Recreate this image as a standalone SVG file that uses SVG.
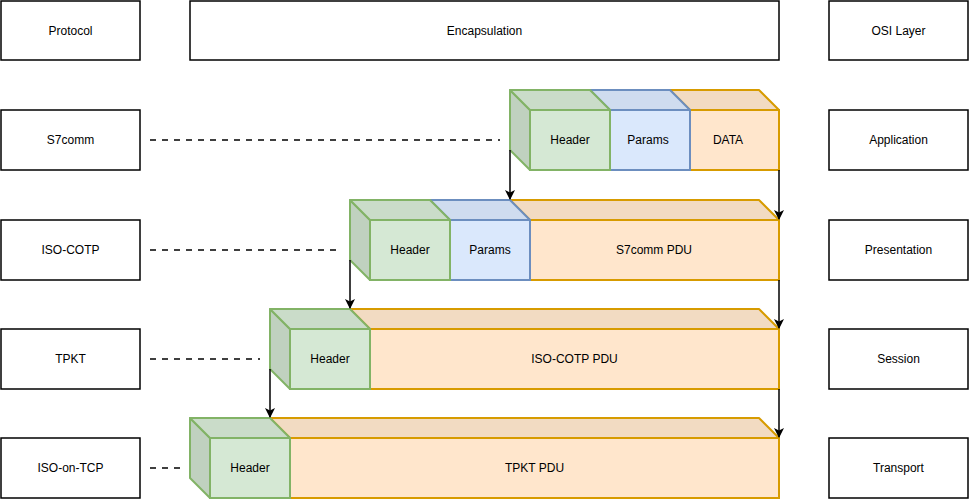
<svg xmlns="http://www.w3.org/2000/svg" width="969" height="500" viewBox="0 0 969 500">
<style>
.box{fill:#fff;stroke:#000;stroke-width:1.5}
.t{font-family:"Liberation Sans",Arial,sans-serif;font-size:12px;fill:#000;text-anchor:middle;dominant-baseline:central}
.g{fill:#d5e8d4;stroke:#82b366;stroke-width:2}
.gt{fill:#cadcc9;stroke:#82b366;stroke-width:2;stroke-linejoin:round}
.gs{fill:#c0d1bf;stroke:#82b366;stroke-width:2;stroke-linejoin:round}
.b{fill:#dae8fc;stroke:#6c8ebf;stroke-width:2}
.bt{fill:#cfdcef;stroke:#6c8ebf;stroke-width:2;stroke-linejoin:round}
.o{fill:#ffe6cc;stroke:#d79b00;stroke-width:2}
.ot{fill:#f2dbc2;stroke:#d79b00;stroke-width:2;stroke-linejoin:round}
.d{stroke:#000;stroke-width:1.5;stroke-dasharray:6 6;fill:none}
.a{stroke:#000;stroke-width:1.5;fill:none;marker-end:url(#ah)}
</style>
<defs>
<marker id="ah" viewBox="0 0 10 10" refX="9" refY="5" markerWidth="10" markerHeight="10" markerUnits="userSpaceOnUse" orient="auto">
<path d="M0,0 L10,5 L0,10 L2.5,5 Z" fill="#000"/>
</marker>
</defs>
<g id="hdr-protocol"><rect class="box" x="1" y="1" width="139" height="59"/><text class="t" x="70.5" y="30.5">Protocol</text></g>
<g id="hdr-encap"><rect class="box" x="190" y="1" width="589" height="59"/><text class="t" x="484.5" y="30.5">Encapsulation</text></g>
<g id="hdr-osi"><rect class="box" x="829" y="1" width="139" height="59"/><text class="t" x="898.5" y="30.5">OSI Layer</text></g>

<g id="p-s7comm"><rect class="box" x="1" y="110" width="139" height="60"/><text class="t" x="70.5" y="140">S7comm</text></g>
<g id="p-isocotp"><rect class="box" x="1" y="220" width="139" height="60"/><text class="t" x="70.5" y="250">ISO-COTP</text></g>
<g id="p-tpkt"><rect class="box" x="1" y="329" width="139" height="60"/><text class="t" x="70.5" y="359">TPKT</text></g>
<g id="p-isoontcp"><rect class="box" x="1" y="438" width="139" height="60"/><text class="t" x="70.5" y="468">ISO-on-TCP</text></g>

<g id="l-app"><rect class="box" x="829" y="110" width="139" height="60"/><text class="t" x="898.5" y="140">Application</text></g>
<g id="l-pres"><rect class="box" x="829" y="220" width="139" height="60"/><text class="t" x="898.5" y="250">Presentation</text></g>
<g id="l-sess"><rect class="box" x="829" y="329" width="139" height="60"/><text class="t" x="898.5" y="359">Session</text></g>
<g id="l-trans"><rect class="box" x="829" y="438" width="139" height="60"/><text class="t" x="898.5" y="468">Transport</text></g>

<!-- Row 1 -->
<g id="r1-data">
<polygon class="ot" points="670,90 759,90 779,110 690,110"/>
<rect class="o" x="690" y="110" width="89" height="60"/>
<text class="t" x="728" y="140">DATA</text></g>
<g id="r1-params">
<polygon class="bt" points="590,90 670,90 690,110 610,110"/>
<rect class="b" x="610" y="110" width="80" height="60"/>
<text class="t" x="648" y="140">Params</text></g>
<g id="r1-header">
<polygon class="gs" points="510,90 530,110 530,170 510,150"/>
<polygon class="gt" points="510,90 590,90 610,110 530,110"/>
<rect class="g" x="530" y="110" width="80" height="60"/>
<text class="t" x="570" y="140">Header</text></g>

<!-- Row 2 -->
<g id="r2-pdu">
<polygon class="ot" points="510,200 759,200 779,220 530,220"/>
<rect class="o" x="530" y="220" width="249" height="60"/>
<text class="t" x="654" y="250">S7comm PDU</text></g>
<g id="r2-params">
<polygon class="bt" points="430,200 510,200 530,220 450,220"/>
<rect class="b" x="450" y="220" width="80" height="60"/>
<text class="t" x="490" y="250">Params</text></g>
<g id="r2-header">
<polygon class="gs" points="350,200 370,220 370,280 350,260"/>
<polygon class="gt" points="350,200 430,200 450,220 370,220"/>
<rect class="g" x="370" y="220" width="80" height="60"/>
<text class="t" x="410" y="250">Header</text></g>

<!-- Row 3 -->
<g id="r3-pdu">
<polygon class="ot" points="350,309 759,309 779,329 370,329"/>
<rect class="o" x="370" y="329" width="409" height="60"/>
<text class="t" x="574.5" y="359">ISO-COTP PDU</text></g>
<g id="r3-header">
<polygon class="gs" points="270,309 290,329 290,389 270,369"/>
<polygon class="gt" points="270,309 350,309 370,329 290,329"/>
<rect class="g" x="290" y="329" width="80" height="60"/>
<text class="t" x="330" y="359">Header</text></g>

<!-- Row 4 -->
<g id="r4-pdu">
<polygon class="ot" points="270,418 759,418 779,438 290,438"/>
<rect class="o" x="290" y="438" width="489" height="60"/>
<text class="t" x="534.5" y="468">TPKT PDU</text></g>
<g id="r4-header">
<polygon class="gs" points="190,418 210,438 210,498 190,478"/>
<polygon class="gt" points="190,418 270,418 290,438 210,438"/>
<rect class="g" x="210" y="438" width="80" height="60"/>
<text class="t" x="250" y="468">Header</text></g>

<g id="connectors">
<line class="d" x1="150" y1="140" x2="500" y2="140"/>
<line class="d" x1="150" y1="250" x2="340" y2="250"/>
<line class="d" x1="150" y1="359" x2="260" y2="359"/>
<line class="d" x1="150" y1="468" x2="180" y2="468"/>
<line class="a" x1="510" y1="150" x2="510" y2="199"/>
<line class="a" x1="779" y1="170" x2="779" y2="219"/>
<line class="a" x1="350" y1="260" x2="350" y2="308"/>
<line class="a" x1="779" y1="280" x2="779" y2="328"/>
<line class="a" x1="270" y1="369" x2="270" y2="417"/>
<line class="a" x1="779" y1="389" x2="779" y2="437"/>
</g>
</svg>
